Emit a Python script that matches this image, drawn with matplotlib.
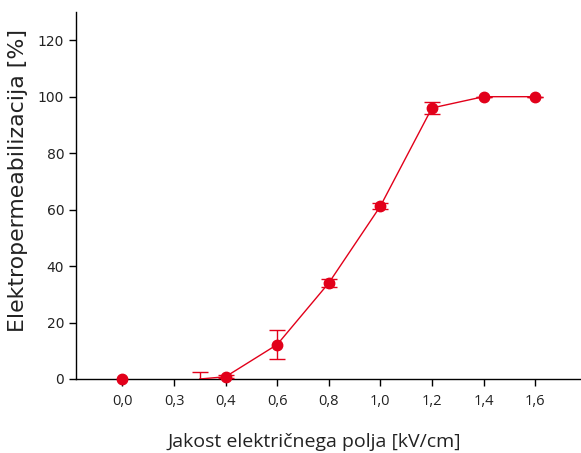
import matplotlib
matplotlib.use("Agg")
import matplotlib.pyplot as plt
import numpy as np

tick_labels = ["0,0", "0,3", "0,4", "0,6", "0,8", "1,0", "1,2", "1,4", "1,6"]
# category positions of the measured points
first_pos = [0]
first_val = [0.0]
series_pos = [1.5, 2, 3, 4, 5, 6, 7, 8]
series_val = [0.0, 0.8, 12.2, 34.0, 61.2, 96.0, 100.0, 100.0]
series_err = [2.4, 0.6, 5.0, 1.5, 1.0, 2.2, 0.0, 0.0]
series_marker = [False, True, True, True, True, True, True, True]

red = "#e2001a"
txt = "#222222"

fig = plt.figure(figsize=(5.81, 4.53), dpi=100)
ax = fig.add_axes([76 / 581, 1 - 379 / 453, (580 - 76) / 581, (379 - 12) / 453])

ax.plot(first_pos, first_val, "o", color=red, markersize=7.5, clip_on=False, zorder=4)
ax.plot(series_pos, series_val, "-", color=red, lw=1.0, zorder=3)
ax.errorbar(series_pos, series_val, yerr=series_err, fmt="none", ecolor=red,
            elinewidth=1.0, capsize=5.5, capthick=1.0, zorder=3)
mpos = [p for p, m in zip(series_pos, series_marker) if m]
mval = [v for v, m in zip(series_val, series_marker) if m]
ax.plot(mpos, mval, "o", color=red, markersize=7.5, clip_on=False, zorder=4)

ax.set_xlim(-0.9, 8.87)
ax.set_ylim(0, 130)
ax.set_xticks(range(len(tick_labels)))
ax.set_xticklabels(tick_labels, fontsize=10.5, family=["Open Sans", "DejaVu Sans"], color=txt)
ax.set_yticks(np.arange(0, 121, 20))
ax.tick_params(axis="y", labelsize=10, length=5, width=1, direction="out", labelcolor=txt)
ax.tick_params(axis="x", length=5, width=1, direction="out", pad=6)

for s in ["top", "right"]:
    ax.spines[s].set_visible(False)
ax.spines["left"].set_linewidth(1.0)
ax.spines["bottom"].set_linewidth(1.0)

ax.set_xlabel("Jakost električnega polja [kV/cm]", fontsize=14,
              family=["Open Sans", "DejaVu Sans"], color=txt)
ax.xaxis.set_label_coords((314.5 - 76) / 504, -(442 - 379) / 367)
ax.xaxis.label.set_va("center")
ax.set_ylabel("Elektropermeabilizacija [%]", fontsize=15.8, color=txt)
ax.yaxis.set_label_coords((18 - 76) / 504, (379 - 180) / 367)
ax.yaxis.label.set_va("center")

fig.savefig("out.png", dpi=100)
